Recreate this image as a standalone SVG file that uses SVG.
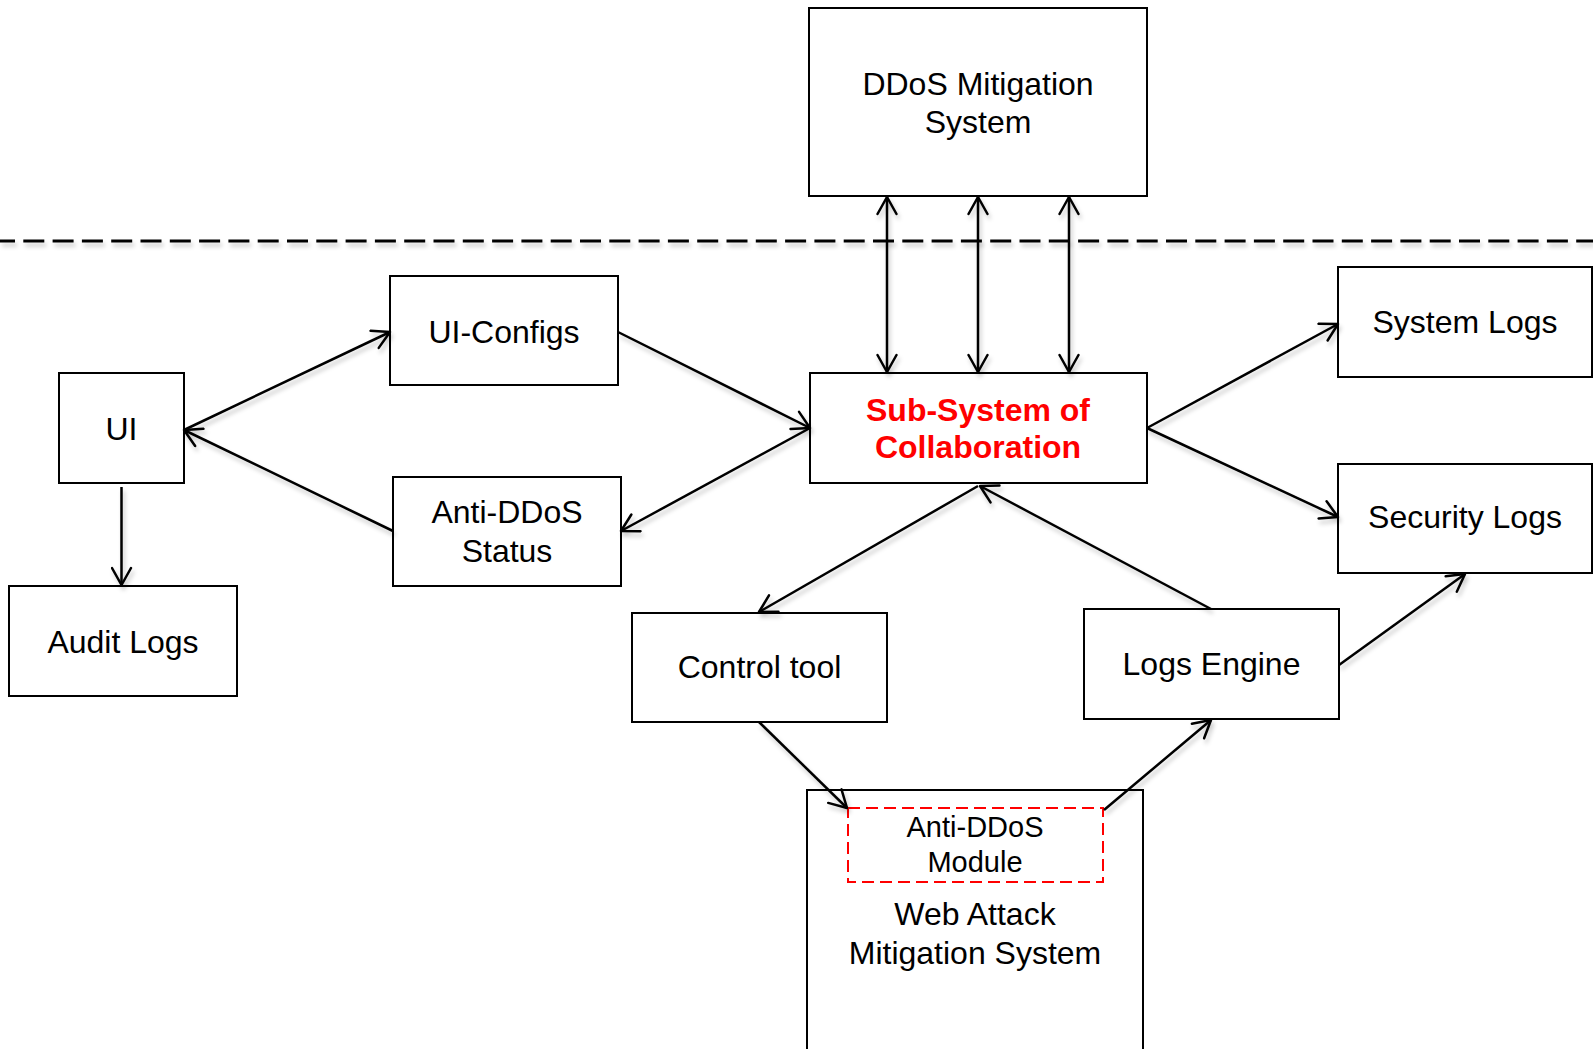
<svg xmlns="http://www.w3.org/2000/svg" width="1593" height="1049" viewBox="0 0 1593 1049">
  <style>
    .box { fill: #fff; stroke: #000; stroke-width: 2; }
    .lbl { font-family: "Liberation Sans", Arial, sans-serif; font-size: 32px; fill: #000; text-anchor: middle; }
    .hot { font-weight: bold; fill: #ff0000; }
    .small { font-size: 29px; }
    .edge { fill: none; stroke: #000; stroke-width: 2.5; marker-end: url(#ah); }
    .both { marker-start: url(#ah); }
  </style>
  <defs>
    <filter id="soft" x="-5%" y="-5%" width="110%" height="120%">
      <feDropShadow dx="2" dy="4" stdDeviation="2" flood-color="#000" flood-opacity="0.22"/>
    </filter>
    <filter id="softline" filterUnits="userSpaceOnUse" x="0" y="225" width="1593" height="35">
      <feDropShadow dx="2" dy="4" stdDeviation="2" flood-color="#000" flood-opacity="0.22"/>
    </filter>
    <marker id="ah" viewBox="0 0 22 22" refX="19" refY="11" markerWidth="22" markerHeight="22" orient="auto-start-reverse" markerUnits="userSpaceOnUse">
      <path d="M2,1.5 L19,11 L2,20.5" fill="none" stroke="#000" stroke-width="2.5" stroke-linecap="round" stroke-linejoin="round"/>
    </marker>
  </defs>

  <rect width="1593" height="1049" fill="#fff"/>

  <!-- boundary between the external system and the local sub-systems -->
  <line x1="0" y1="241" x2="1593" y2="241" stroke="#000" stroke-width="3" stroke-dasharray="21 8.3" stroke-dashoffset="6" filter="url(#softline)"/>

  <g id="ddos-mitigation">
    <rect class="box" x="809" y="8" width="338" height="188"/>
    <text class="lbl" x="978" y="95">DDoS Mitigation</text>
    <text class="lbl" x="978" y="133">System</text>
  </g>

  <g id="ui">
    <rect class="box" x="59" y="373" width="125" height="110"/>
    <text class="lbl" x="121.5" y="440">UI</text>
  </g>

  <g id="ui-configs">
    <rect class="box" x="390" y="276" width="228" height="109"/>
    <text class="lbl" x="504" y="343">UI-Configs</text>
  </g>

  <g id="anti-ddos-status">
    <rect class="box" x="393" y="477" width="228" height="109"/>
    <text class="lbl" x="507" y="523">Anti-DDoS</text>
    <text class="lbl" x="507" y="562">Status</text>
  </g>

  <g id="audit-logs">
    <rect class="box" x="9" y="586" width="228" height="110"/>
    <text class="lbl" x="123" y="653">Audit Logs</text>
  </g>

  <g id="collaboration">
    <rect class="box" x="810" y="373" width="337" height="110"/>
    <text class="lbl hot" x="978" y="421">Sub-System of</text>
    <text class="lbl hot" x="978" y="458">Collaboration</text>
  </g>

  <g id="system-logs">
    <rect class="box" x="1338" y="267" width="254" height="110"/>
    <text class="lbl" x="1465" y="333">System Logs</text>
  </g>

  <g id="security-logs">
    <rect class="box" x="1338" y="464" width="254" height="109"/>
    <text class="lbl" x="1465" y="528">Security Logs</text>
  </g>

  <g id="control-tool">
    <rect class="box" x="632" y="613" width="255" height="109"/>
    <text class="lbl" x="759.5" y="678">Control tool</text>
  </g>

  <g id="logs-engine">
    <rect class="box" x="1084" y="609" width="255" height="110"/>
    <text class="lbl" x="1211.5" y="675">Logs Engine</text>
  </g>

  <g id="web-attack-mitigation">
    <rect class="box" x="807" y="790" width="336" height="280"/>
    <text class="lbl" x="975" y="925">Web Attack</text>
    <text class="lbl" x="975" y="964">Mitigation System</text>
  </g>

  <g id="anti-ddos-module">
    <rect x="848" y="808" width="255" height="74" fill="none" stroke="#ff0000" stroke-width="2" stroke-dasharray="12 6"/>
    <text class="lbl small" x="975" y="837">Anti-DDoS</text>
    <text class="lbl small" x="975" y="872">Module</text>
  </g>

  <g id="connectors" filter="url(#soft)">
    <!-- external system links -->
    <line class="edge both" x1="887" y1="197" x2="887" y2="372"/>
    <line class="edge both" x1="978" y1="197" x2="978" y2="372"/>
    <line class="edge both" x1="1069" y1="197" x2="1069" y2="372"/>
    <!-- UI side -->
    <line class="edge" x1="184" y1="430" x2="390" y2="332"/>
    <line class="edge" x1="393" y1="531" x2="184" y2="430"/>
    <line class="edge" x1="121.5" y1="487" x2="121.5" y2="585"/>
    <line class="edge" x1="618" y1="332" x2="810" y2="428"/>
    <line class="edge" x1="810" y1="428" x2="621" y2="531"/>
    <!-- logs -->
    <line class="edge" x1="1147" y1="428" x2="1338" y2="324"/>
    <line class="edge" x1="1147" y1="428" x2="1338" y2="517"/>
    <line class="edge" x1="1339" y1="665" x2="1465" y2="574"/>
    <!-- control and log engine -->
    <line class="edge" x1="978" y1="486" x2="759" y2="612"/>
    <line class="edge" x1="1211" y1="609" x2="980" y2="486"/>
    <line class="edge" x1="759" y1="722" x2="847" y2="808"/>
    <line class="edge" x1="1104" y1="810" x2="1211" y2="720"/>
  </g>
</svg>
